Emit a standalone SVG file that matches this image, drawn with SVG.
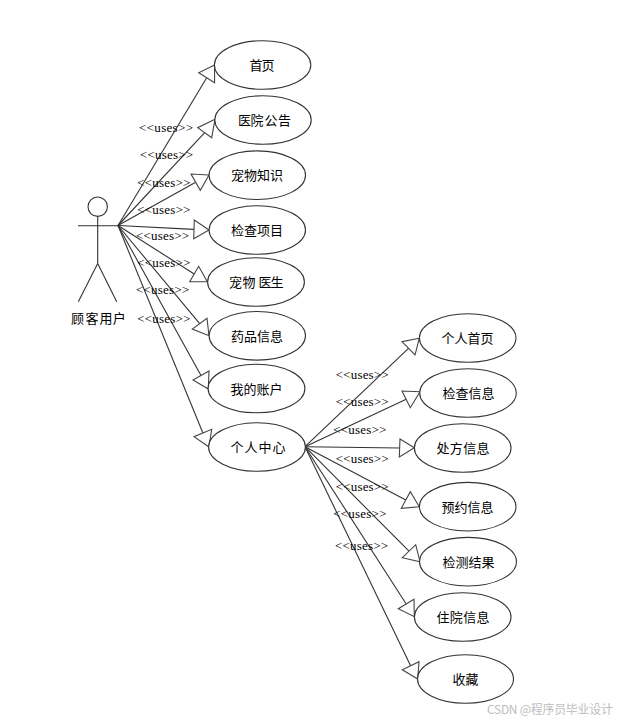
<svg xmlns="http://www.w3.org/2000/svg" width="619" height="721" viewBox="0 0 619 721">
<style>
.bg{fill:#fff}
ellipse,circle{fill:#fff;stroke:#333;stroke-width:1.1}
.c line,.a line{stroke:#333;stroke-width:1.1;fill:none}
.c polygon{fill:#fff;stroke:#444;stroke-width:1.1}
text{fill:#000}
.n{font:13px "Noto Sans CJK SC","Liberation Sans",sans-serif}
.u{font:13px "Liberation Serif",serif}
.w{font:12px "Noto Sans CJK SC","Liberation Sans",sans-serif;fill:#bdbdbd}
</style>
<rect class="bg" width="619" height="721"/>
<g id="connectors" class="c">
<line x1="118" y1="225.5" x2="206.7" y2="77.7"/><polygon points="214.5,65 198.7,72.7 214.6,82.7"/>
<line x1="118" y1="225.5" x2="204.7" y2="132.7"/><polygon points="215,119.3 197.7,127.7 211.7,137.7"/>
<line x1="118" y1="225.5" x2="195.7" y2="182.2"/><polygon points="209,175 191,174 200.3,190.3"/>
<line x1="118" y1="225.5" x2="194" y2="229.4"/><polygon points="209,230 194.3,220 193.7,238.7"/>
<line x1="118" y1="225.5" x2="194.2" y2="274"/><polygon points="207.3,281.7 198.7,266.3 189.7,281.7"/>
<line x1="118" y1="225.5" x2="199.7" y2="323.7"/><polygon points="209,335.7 207,318.3 192.3,329"/>
<line x1="118" y1="225.5" x2="201" y2="375.5"/><polygon points="208.3,389 209,371 193,380"/>
<line x1="118" y1="225.5" x2="202.9" y2="433"/><polygon points="209,447 211.7,429.3 194,436.7"/>
<line x1="305" y1="446.7" x2="408.5" y2="348.3"/><polygon points="419.3,338.3 402,341.7 415,355"/>
<line x1="305" y1="446.7" x2="406.2" y2="399.3"/><polygon points="420,391.7 402,391 410.3,407.7"/>
<line x1="305" y1="446.7" x2="399.6" y2="448"/><polygon points="414.3,447.7 400,439 399.3,457"/>
<line x1="305" y1="446.7" x2="405.8" y2="500"/><polygon points="419.3,506.7 410.3,491.7 401.3,508.3"/>
<line x1="305" y1="446.7" x2="409" y2="551.2"/><polygon points="420,561.7 415.7,544.7 402.3,557.7"/>
<line x1="305" y1="446.7" x2="406.2" y2="604"/><polygon points="414.3,616.7 414,599.3 398.3,608.7"/>
<line x1="305" y1="446.7" x2="410.6" y2="665.7"/><polygon points="417.7,679 419,661.7 402.3,669.7"/>
</g>
<g id="actor" class="a">
<circle cx="97.7" cy="206.7" r="9.7"/>
<line x1="78" y1="225.7" x2="118" y2="225.7"/>
<line x1="97.7" y1="216.4" x2="97.7" y2="263.5"/>
<line x1="97.7" y1="263.5" x2="78.3" y2="301.7"/>
<line x1="97.7" y1="263.5" x2="116.7" y2="301.7"/>
<text class="n" x="71 85.5 99.5 112.8" y="322.5">顾客用户</text>
</g>
<g id="n1"><ellipse cx="262.6" cy="65" rx="48.2" ry="24.3"/><text class="n" x="249.5" y="70" textLength="25">首页</text></g>
<g id="n2"><ellipse cx="263" cy="120" rx="48.2" ry="24.3"/><text class="n" x="238 250.5 264.5 278" y="125">医院公告</text></g>
<g id="n3"><ellipse cx="257.3" cy="175.2" rx="48.2" ry="24.3"/><text class="n" x="231" y="180" textLength="52">宠物知识</text></g>
<g id="n4"><ellipse cx="257.3" cy="230" rx="48.2" ry="24.3"/><text class="n" x="231" y="235" textLength="52">检查项目</text></g>
<g id="n5"><ellipse cx="256" cy="282" rx="48.4" ry="24.3"/><text class="n" x="229 242.5 258.5 270.5" y="287">宠物医生</text></g>
<g id="n6"><ellipse cx="257.3" cy="335.8" rx="48.2" ry="24.3"/><text class="n" x="231" y="341" textLength="52">药品信息</text></g>
<g id="n7"><ellipse cx="256.5" cy="388.5" rx="48.4" ry="24.3"/><text class="n" x="230.5" y="393.5" textLength="52">我的账户</text></g>
<g id="n8"><ellipse cx="257" cy="447" rx="48.4" ry="24.3"/><text class="n" x="230.5 244.5 258.5 272.5" y="452">个人中心</text></g>
<g id="n9"><ellipse cx="467.7" cy="338" rx="48.3" ry="24.3"/><text class="n" x="441.5" y="343" textLength="52">个人首页</text></g>
<g id="n10"><ellipse cx="468" cy="393" rx="48.3" ry="24.3"/><text class="n" x="442.5" y="398" textLength="52">检查信息</text></g>
<g id="n11"><ellipse cx="462.7" cy="448" rx="48.3" ry="24.3"/><text class="n" x="436.5" y="453" textLength="53">处方信息</text></g>
<g id="n12"><ellipse cx="467.7" cy="506.7" rx="48.3" ry="24.3"/><text class="n" x="441.5" y="511.5" textLength="52">预约信息</text></g>
<g id="n13"><ellipse cx="468" cy="561.7" rx="48.5" ry="24.3"/><text class="n" x="442.5" y="566.5" textLength="52">检测结果</text></g>
<g id="n14"><ellipse cx="462.7" cy="617" rx="48.3" ry="24.3"/><text class="n" x="436.5" y="622" textLength="53">住院信息</text></g>
<g id="n15"><ellipse cx="465.5" cy="679" rx="48" ry="24.3"/><text class="n" x="452.5" y="684" textLength="26">收藏</text></g>
<g id="labels">
<text class="u" x="139" y="131.7" textLength="54">&lt;&lt;uses&gt;&gt;</text>
<text class="u" x="140" y="159" textLength="53">&lt;&lt;uses&gt;&gt;</text>
<text class="u" x="137.3" y="187" textLength="53">&lt;&lt;uses&gt;&gt;</text>
<text class="u" x="137.3" y="214" textLength="53">&lt;&lt;uses&gt;&gt;</text>
<text class="u" x="136" y="240" textLength="53">&lt;&lt;uses&gt;&gt;</text>
<text class="u" x="137.3" y="267" textLength="53">&lt;&lt;uses&gt;&gt;</text>
<text class="u" x="136" y="294" textLength="53">&lt;&lt;uses&gt;&gt;</text>
<text class="u" x="137.3" y="323" textLength="53">&lt;&lt;uses&gt;&gt;</text>
<text class="u" x="335.7" y="379" textLength="53">&lt;&lt;uses&gt;&gt;</text>
<text class="u" x="335.7" y="406" textLength="53">&lt;&lt;uses&gt;&gt;</text>
<text class="u" x="333.3" y="434" textLength="53">&lt;&lt;uses&gt;&gt;</text>
<text class="u" x="335.7" y="463" textLength="53">&lt;&lt;uses&gt;&gt;</text>
<text class="u" x="335.7" y="491" textLength="53">&lt;&lt;uses&gt;&gt;</text>
<text class="u" x="333.3" y="518" textLength="53">&lt;&lt;uses&gt;&gt;</text>
<text class="u" x="335" y="550" textLength="53">&lt;&lt;uses&gt;&gt;</text>
</g>
<text class="w" x="487" y="714" textLength="126">CSDN @程序员毕业设计</text>
</svg>
